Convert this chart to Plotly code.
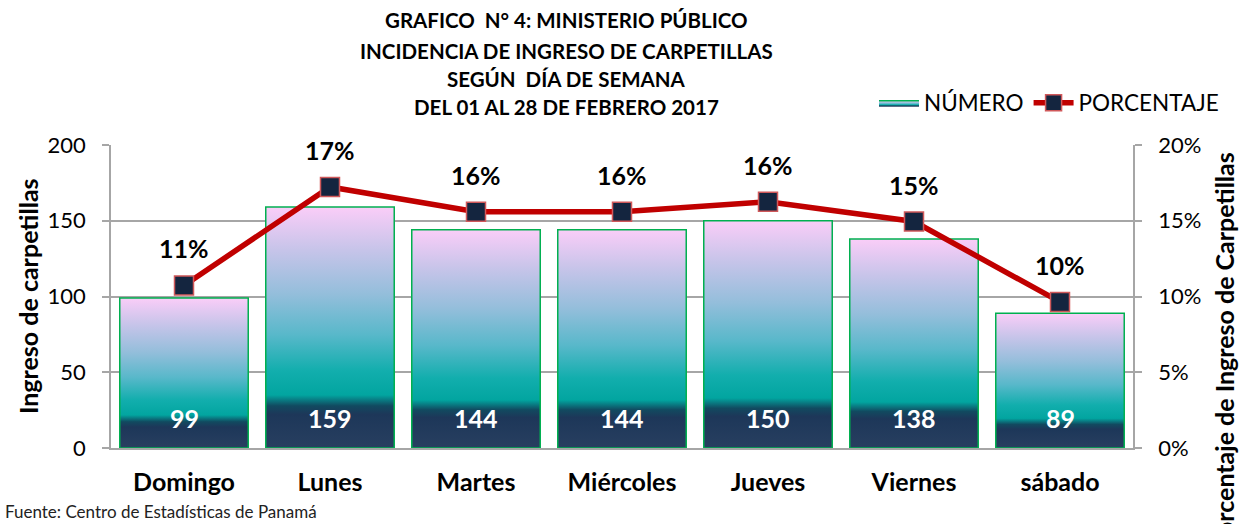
import plotly.graph_objects as go

categories = ["Domingo", "Lunes", "Martes", "Miércoles", "Jueves", "Viernes", "sábado"]
numero = [99, 159, 144, 144, 150, 138, 89]
porcentaje = [0.1073, 0.1723, 0.1560, 0.1560, 0.1625, 0.1495, 0.0964]
title_lines = [
    "GRAFICO  N° 4: MINISTERIO PÚBLICO",
    "INCIDENCIA DE INGRESO DE CARPETILLAS",
    "SEGÚN  DÍA DE SEMANA",
    "DEL 01 AL 28 DE FEBRERO 2017",
]

FONT = "Lato"
HALF = 0.44
W, H = 1244, 524
PL, PR, PT, PB = 111, 1133, 145, 448  # plot area in page pixels
PW, PH = PR - PL, PB - PT


def px(x):
    return (x - PL) / PW


def py(y):
    return (PB - y) / PH


grad = [
    [0.0, "#283f60"],
    [0.14, "#1d3759"],
    [0.175, "#114a60"],
    [0.22, "#02a5a0"],
    [0.32, "#12aead"],
    [0.47, "#58b8ca"],
    [0.64, "#94bedb"],
    [0.82, "#c6c4e9"],
    [1.0, "#facdf8"],
]

fig = go.Figure()
for i, v in enumerate(numero):
    fig.add_trace(go.Scatter(
        x=[i - HALF, i + HALF, i + HALF, i - HALF, i - HALF],
        y=[0, 0, v, v, 0],
        mode="lines",
        fill="toself",
        fillgradient=dict(type="vertical", colorscale=grad, start=0, stop=v),
        line=dict(color="#00b050", width=1.5),
        name="NÚMERO",
        legendgroup="num",
        showlegend=(i == 0),
        hoverinfo="skip",
        yaxis="y",
    ))

fig.add_trace(go.Scatter(
    x=list(range(len(categories))),
    y=porcentaje,
    mode="lines+markers",
    line=dict(color="#c00000", width=5.5),
    marker=dict(symbol="square", size=19, color="#14253f",
                line=dict(color="#d0585a", width=1.5)),
    name="PORCENTAJE",
    yaxis="y2",
))

annotations = []
for i, v in enumerate(numero):
    annotations.append(dict(x=i, y=0, xref="x", yref="y", text=f"<b>{v}</b>",
                            showarrow=False, yanchor="middle", yshift=30,
                            font=dict(family=FONT, size=25, color="white")))
for i, p in enumerate(porcentaje):
    annotations.append(dict(x=i, y=p, xref="x", yref="y2", text=f"<b>{round(p*100):.0f}%</b>",
                            showarrow=False, yanchor="middle", yshift=37,
                            font=dict(family=FONT, size=25, color="black")))
for t, ty in zip(title_lines, [20, 51, 79, 107]):
    annotations.append(dict(x=px(566), y=py(ty), xref="paper", yref="paper",
                            text=f"<b>{t}</b>", showarrow=False, xanchor="center", yanchor="middle",
                            font=dict(family=FONT, size=20.5, color="black")))
annotations.append(dict(x=px(28), y=py(296), xref="paper", yref="paper",
                        text="<b>Ingreso de carpetillas</b>", textangle=-90, showarrow=False,
                        xanchor="center", yanchor="middle",
                        font=dict(family=FONT, size=25, color="black")))
annotations.append(dict(x=px(1224), y=py(352), xref="paper", yref="paper",
                        text="<b>Porcentaje de Ingreso de Carpetillas</b>", textangle=-90, showarrow=False,
                        xanchor="center", yanchor="middle",
                        font=dict(family=FONT, size=25, color="black")))
annotations.append(dict(x=px(3), y=py(511), xref="paper", yref="paper",
                        text="Fuente: Centro de Estadísticas de Panamá", showarrow=False,
                        xanchor="left", yanchor="middle",
                        font=dict(family=FONT, size=17, color="#222222")))

fig.update_layout(
    width=W, height=H,
    margin=dict(l=PL, r=W - PR, t=PT, b=H - PB),
    paper_bgcolor="white", plot_bgcolor="white",
    font=dict(family=FONT, color="black"),
    showlegend=True,
    legend=dict(orientation="h", x=px(1224), xanchor="right",
                y=py(103), yanchor="middle",
                font=dict(family=FONT, size=22.5, color="black"),
                bgcolor="rgba(0,0,0,0)", itemwidth=40),
    annotations=annotations,
    xaxis=dict(
        range=[-0.5, 6.5],
        tickmode="array", tickvals=list(range(len(categories))),
        ticktext=[f"<b>{c}</b>" for c in categories],
        tickfont=dict(family=FONT, size=25, color="black"),
        showgrid=False, zeroline=False,
        showline=True, linecolor="#a6a6a6", linewidth=1.5,
        ticks="", ticklabelstandoff=11, fixedrange=True,
    ),
    yaxis=dict(
        range=[0, 200], dtick=50, tick0=0,
        tickfont=dict(family=FONT, size=22, color="black"),
        showgrid=True, gridcolor="#a6a6a6", gridwidth=1.5,
        zeroline=False,
        showline=True, linecolor="#a6a6a6", linewidth=1.5,
        ticks="outside", ticklen=7, tickcolor="#a6a6a6", tickwidth=1.5,
        ticklabelstandoff=12,
    ),
    yaxis2=dict(
        range=[0, 0.2], dtick=0.05, tick0=0, tickformat=".0%",
        overlaying="y", side="right",
        tickfont=dict(family=FONT, size=22, color="black"),
        showgrid=False, zeroline=False,
        showline=True, linecolor="#a6a6a6", linewidth=1.5,
        ticks="outside", ticklen=7, tickcolor="#a6a6a6", tickwidth=1.5,
        ticklabelstandoff=12,
    ),
)

fig.write_html("out.html", config={"displayModeBar": False},
               post_script="document.body.style.margin='0';")
